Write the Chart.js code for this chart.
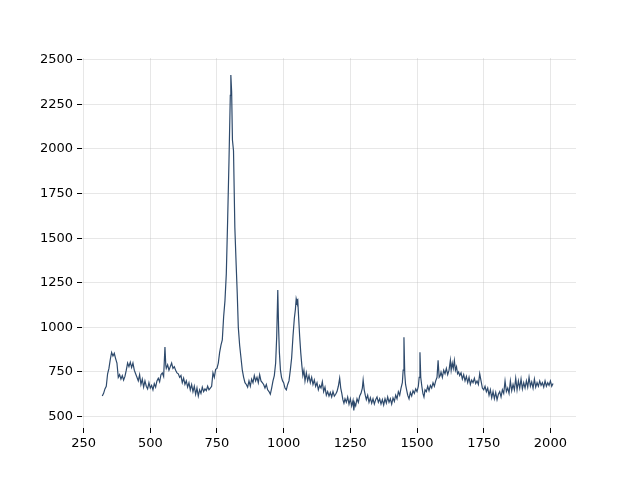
<!DOCTYPE html>
<html>
<head>
<meta charset="utf-8">
<title>Spectrum</title>
<script src="https://cdn.jsdelivr.net/npm/chart.js@4/dist/chart.umd.min.js"></script>
<style>
  body { margin: 0; background: #fff; }
  #wrap { width: 640px; height: 480px; }
</style>
</head>
<body>
<div id="wrap"><canvas id="myChart" width="640" height="480"></canvas></div>
<script>
// Raman shift (x) and intensity (y)
const shift = [
  320, 325, 330, 335, 340, 345, 350, 355, 360, 365, 370, 375, 380, 385, 390, 395,
  400, 405, 410, 415, 420, 425, 430, 435, 440, 445, 450, 455, 460, 465, 470, 475,
  480, 485, 490, 495, 500, 505, 510, 515, 520, 525, 530, 535, 540, 545, 550, 555,
  558, 560, 565, 570, 575, 580, 585, 590, 595, 600, 605, 610, 615, 620, 625, 630,
  635, 640, 645, 650, 655, 660, 665, 670, 675, 680, 685, 690, 695, 700, 705, 710,
  715, 720, 725, 730, 735, 740, 745, 750, 755, 760, 765, 770, 775, 780, 785, 790,
  795, 800, 802, 805, 808, 812, 817, 822, 826, 830, 835, 840, 845, 850, 855, 860,
  865, 870, 875, 880, 885, 890, 895, 900, 905, 910, 915, 920, 925, 930, 935, 940,
  945, 950, 955, 960, 965, 970, 974, 978, 981, 984, 988, 992, 996, 1000, 1005, 1010,
  1015, 1020, 1025, 1030, 1035, 1040, 1044, 1047, 1050, 1053, 1056, 1060, 1064, 1068, 1072, 1076,
  1080, 1085, 1090, 1095, 1100, 1105, 1110, 1115, 1120, 1125, 1130, 1135, 1140, 1145, 1150, 1155,
  1160, 1165, 1170, 1175, 1180, 1185, 1190, 1195, 1200, 1205, 1210, 1214, 1218, 1222, 1226, 1230,
  1235, 1240, 1245, 1250, 1255, 1260, 1263, 1266, 1270, 1275, 1280, 1285, 1290, 1295, 1298, 1302,
  1306, 1310, 1315, 1320, 1325, 1330, 1335, 1340, 1345, 1350, 1355, 1360, 1365, 1370, 1375, 1380,
  1385, 1390, 1395, 1400, 1405, 1410, 1415, 1420, 1425, 1430, 1435, 1440, 1445, 1448, 1451, 1454,
  1457, 1461, 1465, 1470, 1475, 1480, 1485, 1490, 1495, 1500, 1505, 1508, 1511, 1514, 1518, 1522,
  1526, 1530, 1535, 1540, 1545, 1550, 1555, 1560, 1565, 1570, 1575, 1579, 1583, 1587, 1590, 1595,
  1600, 1605, 1610, 1615, 1620, 1625, 1628, 1632, 1636, 1640, 1644, 1648, 1652, 1656, 1660, 1665,
  1670, 1675, 1680, 1685, 1690, 1695, 1700, 1705, 1710, 1715, 1720, 1725, 1730, 1735, 1740, 1745,
  1750, 1755, 1760, 1765, 1770, 1775, 1780, 1785, 1790, 1795, 1800, 1805, 1810, 1815, 1820, 1825,
  1830, 1835, 1840, 1845, 1850, 1855, 1860, 1865, 1870, 1875, 1880, 1885, 1890, 1895, 1900, 1905,
  1910, 1915, 1920, 1925, 1930, 1935, 1940, 1945, 1950, 1955, 1960, 1965, 1970, 1975, 1980, 1985,
  1990, 1995, 2000, 2005, 2010
];
const intensity = [
  615, 630, 655, 670, 740, 770, 820, 860, 840, 855, 825, 800, 720, 735, 710, 730,
  705, 725, 760, 800, 780, 805, 775, 800, 760, 740, 720, 700, 735, 680, 710, 665,
  700, 670, 655, 690, 660, 675, 650, 685, 665, 700, 715, 695, 735, 745, 725, 890,
  790, 770, 790, 760, 780, 800, 770, 780, 760, 745, 740, 720, 730, 690, 715, 680,
  700, 665, 690, 650, 680, 640, 670, 625, 660, 615, 650, 630, 665, 640, 655, 645,
  670, 650, 660, 670, 745, 720, 765, 770, 800, 860, 900, 930, 1060, 1150, 1300, 1600,
  1930, 2300, 2415, 2320, 2050, 1990, 1560, 1350, 1190, 1000, 900, 830, 760, 720, 690, 680,
  665, 700, 670, 710, 690, 730, 700, 720, 690, 735, 700, 690, 680, 660, 680, 650,
  640, 625, 660, 700, 730, 800, 950, 1210, 1000, 860, 760, 720, 700, 690, 660, 650,
  680, 700, 760, 830, 950, 1050, 1100, 1160, 1140, 1150, 1060, 950, 860, 790, 730, 760,
  700, 745, 700, 730, 690, 720, 680, 705, 670, 690, 650, 675, 660, 695, 640, 665,
  620, 640, 615, 635, 610, 640, 615, 625, 640, 670, 715, 660, 630, 595, 575, 600,
  580, 610, 570, 600, 560, 590, 535, 575, 560, 600, 580, 615, 630, 660, 705, 650,
  620, 595, 620, 580, 605, 575, 600, 570, 595, 610, 580, 600, 570, 595, 565, 600,
  575, 610, 580, 600, 570, 605, 585, 620, 600, 640, 620, 660, 690, 760, 945, 740,
  680, 650, 620, 600, 635, 615, 645, 630, 655, 640, 670, 720, 860, 720, 670, 630,
  610, 650, 640, 670, 645, 675, 660, 690, 670, 700, 720, 815, 720, 730, 750, 720,
  760, 740, 770, 735, 760, 815, 760, 800, 770, 815, 760, 780, 740, 750, 730, 745,
  710, 735, 700, 725, 690, 720, 680, 705, 690, 715, 685, 700, 680, 740, 700, 660,
  650, 670, 640, 660, 620, 650, 605, 640, 600, 635, 595, 625, 640, 610, 650, 630,
  700, 640, 660, 630, 700, 645, 680, 650, 715, 650, 700, 660, 710, 655, 690, 660,
  700, 665, 720, 670, 695, 660, 710, 665, 690, 670, 700, 675, 690, 665, 700, 670,
  690, 675, 700, 670, 685
];
const xTicks = [250, 500, 750, 1000, 1250, 1500, 1750, 2000];
const yTicks = [500, 750, 1000, 1250, 1500, 1750, 2000, 2250, 2500];

const points = shift.map((x, i) => ({ x: x, y: intensity[i] }));

const gridColor = "rgba(176, 176, 176, 0.3)";
const tickFont = { family: "DejaVu Sans", size: 13 };

new Chart(document.getElementById("myChart"), {
  type: "line",
  data: {
    datasets: [
      {
        data: points,
        borderColor: "#2e4a6c",
        borderWidth: 1.2,
        pointRadius: 0,
        tension: 0,
        fill: false,
      },
    ],
  },
  options: {
    responsive: false,
    animation: false,
    devicePixelRatio: 1,
    layout: { padding: { left: 0, top: 58, right: 64, bottom: 0 } },
    plugins: {
      legend: { display: false },
      tooltip: { enabled: false },
    },
    scales: {
      x: {
        type: "linear",
        min: 244,
        max: 2096,
        border: { display: false },
        grid: { color: gridColor, lineWidth: 1, tickColor: "#000", tickLength: 5 },
        ticks: {
          color: "#000",
          font: tickFont,
          padding: 3,
          maxRotation: 0,
          callback: (v) => String(v),
        },
        afterBuildTicks: (axis) => {
          axis.ticks = xTicks.map((v) => ({ value: v }));
        },
        afterFit: (axis) => {
          axis.height = 52;
        },
      },
      y: {
        min: 436,
        max: 2510,
        border: { display: false },
        grid: { color: gridColor, lineWidth: 1, tickColor: "#000", tickLength: 5 },
        ticks: {
          color: "#000",
          font: tickFont,
          padding: 4,
          callback: (v) => String(v),
        },
        afterBuildTicks: (axis) => {
          axis.ticks = yTicks.map((v) => ({ value: v }));
        },
        afterFit: (axis) => {
          axis.width = 82;
        },
      },
    },
  },
});
</script>
</body>
</html>
